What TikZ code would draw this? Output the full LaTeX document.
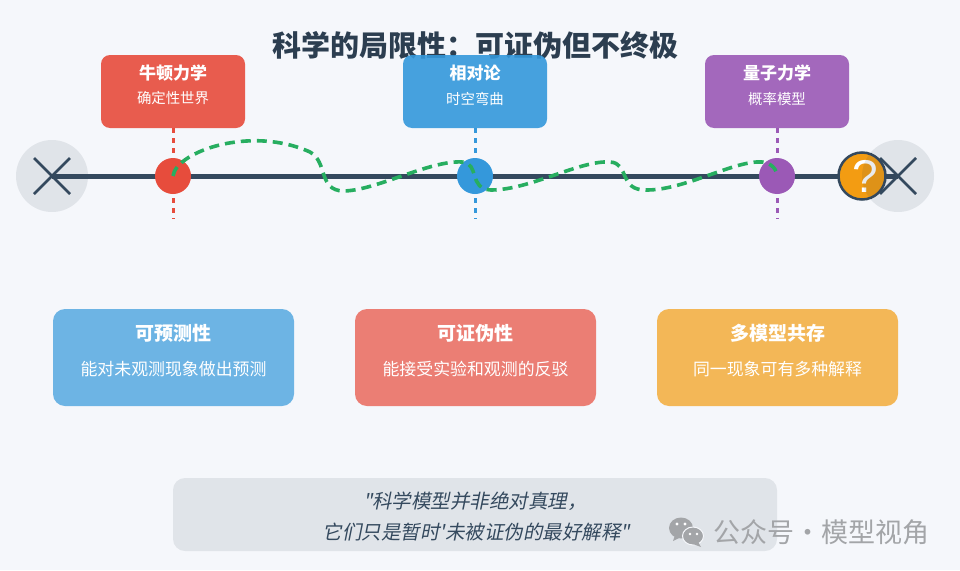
\documentclass[tikz,border=0pt]{standalone}
\usepackage{fontspec}
\setmainfont{Noto Sans CJK SC}
\newfontfamily\slantcjk[FakeSlant=0.2]{Noto Sans CJK SC}
\newfontfamily\askfont{Liberation Sans}
\definecolor{bgcol}{HTML}{F5F7FB}
\definecolor{inkcol}{HTML}{2C3E50}
\definecolor{linecol}{HTML}{34495E}
\definecolor{redcol}{HTML}{E74C3C}
\definecolor{bluecol}{HTML}{3498DB}
\definecolor{purplecol}{HTML}{9B59B6}
\definecolor{orangecol}{HTML}{F39C12}
\definecolor{greencol}{HTML}{27AE60}
\definecolor{markcol}{HTML}{A3A5A8}
\tikzset{
    modelbox/.style={rounded corners=9pt, minimum width=144pt, minimum height=73pt, inner sep=0pt, fill opacity=0.9},
    cardbox/.style={rounded corners=12pt, minimum width=241pt, minimum height=97pt, inner sep=0pt, fill opacity=0.7},
    modelname/.style={white, font=\fontsize{17}{18}\selectfont\bfseries},
    modelnote/.style={white, font=\fontsize{14.4}{16}\selectfont},
    cardname/.style={white, font=\fontsize{19}{20}\selectfont\bfseries},
    cardnote/.style={white, font=\fontsize{16.9}{18}\selectfont},
    eventdot/.style={circle, minimum size=36pt, inner sep=0pt},
    limitdot/.style={circle, minimum size=72pt, inner sep=0pt, fill=inkcol, fill opacity=0.1},
    crossline/.style={linecol, line width=2.5pt},
    guide/.style={line width=3pt, dash pattern=on 5pt off 5pt},
    quotetext/.style={linecol, font=\fontsize{19.5}{21}\selectfont\slantcjk},
}
\begin{document}
\begin{tikzpicture}[x=1pt, y=-1pt]
    \useasboundingbox (0, 0) rectangle (960, 570);
    \fill[bgcol] (0, 0) rectangle (960, 570);

    \node[inkcol, font=\fontsize{29}{31}\selectfont\bfseries] (title) at (475.5, 45) {科学的局限性：可证伪但不终极};

    % time line
    \node[limitdot] (leftend) at (52, 176) {};
    \node[circle, inner sep=0pt, minimum size=0pt] (leftcross) at (52, 176) {};
    \node[circle, inner sep=0pt, minimum size=0pt] (rightcross) at (898, 176) {};
    \draw[crossline] (34, 158) -- (70, 194);
    \draw[crossline] (34, 194) -- (70, 158);
    \draw[linecol, line width=5pt] (leftcross) -- (rightcross);

    \node[modelbox, fill=redcol] (newton) at (173, 91.5) {};
    \node[modelbox, fill=bluecol] (relativity) at (475, 91.5) {};
    \node[modelbox, fill=purplecol] (quantum) at (777, 91.5) {};
    \node[modelname] (newtonname) at (173, 73) {牛顿力学};
    \node[modelnote] (newtonnote) at (173, 98.5) {确定性世界};
    \node[modelname] (relativityname) at (475, 73) {相对论};
    \node[modelnote] (relativitynote) at (475, 98.5) {时空弯曲};
    \node[modelname] (quantumname) at (777, 73) {量子力学};
    \node[modelnote] (quantumnote) at (777, 98.5) {概率模型};

    \coordinate (newtonfoot) at (173, 219);
    \coordinate (relativityfoot) at (475, 219);
    \coordinate (quantumfoot) at (777, 219);
    \draw[guide, redcol] (newton.south) -- (newtonfoot);
    \draw[guide, bluecol] (relativity.south) -- (relativityfoot);
    \draw[guide, purplecol] (quantum.south) -- (quantumfoot);

    \node[eventdot, fill=redcol] (newtondot) at (173, 176) {};
    \node[eventdot, fill=bluecol] (relativitydot) at (475, 176) {};
    \node[eventdot, fill=purplecol] (quantumdot) at (777, 176) {};

    % theory path
    \draw[greencol, line width=3.6pt, dash pattern=on 10pt off 6pt] (newtondot.center)
        .. controls (176, 152) and (250, 125) .. (310, 152)
        .. controls (328, 162) and (318, 190) .. (343, 191)
        .. controls (375, 191) and (430, 160) .. (462, 162)
        .. controls (480, 163) and (468, 189) .. (491, 190)
        .. controls (530, 190) and (580, 160) .. (610, 162)
        .. controls (630, 163) and (618, 191) .. (647, 190)
        .. controls (685, 190) and (735, 160) .. (762, 162)
        .. controls (772, 163) and (777, 170) .. (quantumdot.center);

    \node[circle, minimum size=47pt, inner sep=0pt, fill=orangecol, draw=linecol, line width=2.5pt] (unknown) at (862, 176) {};
    \node[white, font=\fontsize{46}{48}\selectfont\askfont] (unknownmark) at (865.5, 176) {?};
    \node[limitdot] (rightend) at (898, 176) {};
    \draw[crossline] (880, 158) -- (916, 194);
    \draw[crossline] (880, 194) -- (916, 158);

    % cards
    \node[cardbox, fill=bluecol] (predict) at (173.5, 357.5) {};
    \node[cardbox, fill=redcol] (falsify) at (475.5, 357.5) {};
    \node[cardbox, fill=orangecol] (coexist) at (777.5, 357.5) {};
    \node[cardname] (predictname) at (173.5, 333) {可预测性};
    \node[cardnote] (predictnote) at (173.5, 369.5) {能对未观测现象做出预测};
    \node[cardname] (falsifyname) at (475.5, 333) {可证伪性};
    \node[cardnote] (falsifynote) at (475.5, 369.5) {能接受实验和观测的反驳};
    \node[cardname] (coexistname) at (777.5, 333) {多模型共存};
    \node[cardnote] (coexistnote) at (777.5, 369.5) {同一现象可有多种解释};

    % quote
    \node[rounded corners=12pt, minimum width=604pt, minimum height=73pt, inner sep=0pt, fill=inkcol, fill opacity=0.1] (quotebox) at (475, 514.5) {};
    \node[quotetext] (quoteone) at (475, 501) {"科学模型并非绝对真理，};
    \node[quotetext] (quotetwo) at (476.5, 532) {它们只是暂时'未被证伪的最好解释"};

    % watermark
    \fill[markcol] (681, 528) ellipse (12 and 10.5);
    \fill[markcol] (675, 535) -- (673, 541) -- (681, 537) -- cycle;
    \fill[markcol, draw=bgcol, line width=1pt] (693, 536) ellipse (10.5 and 9);
    \fill[markcol] (698, 542) -- (701, 547) -- (693, 544) -- cycle;
    \fill[white] (677, 524) circle (1.6);
    \fill[white] (685, 524) circle (1.6);
    \fill[white] (690, 534) circle (1.3);
    \fill[white] (697, 534) circle (1.3);
    \node[markcol, font=\fontsize{27}{29}\selectfont] (marktext) at (821.5, 532) {公众号·模型视角};
\end{tikzpicture}
\end{document}
